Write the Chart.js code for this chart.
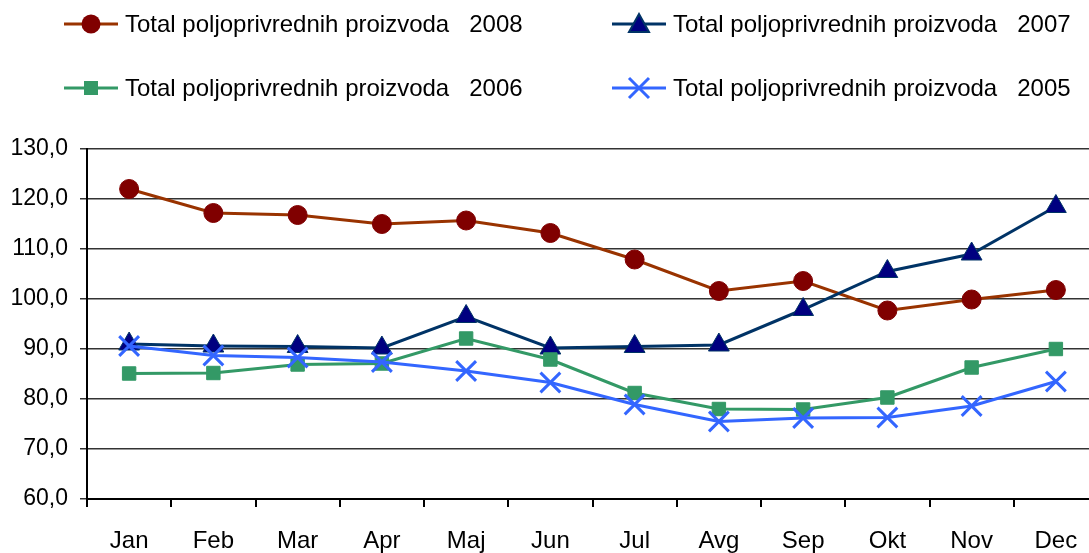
<!DOCTYPE html>
<html>
<head>
<meta charset="utf-8">
<script src="https://cdn.jsdelivr.net/npm/chart.js@4/dist/chart.umd.min.js"></script>
<style>
    html, body { margin: 0; padding: 0; background: #fff; }
    body { width: 1089px; height: 553px; position: relative; overflow: hidden; font-family: 'Liberation Sans', Arial, sans-serif; }
    /* plot runs a little past the right edge of the picture, as in the original */
    #chart-wrap { position: absolute; left: 0; top: 0; width: 1115px; height: 553px; }
    .legend-item { position: absolute; display: flex; align-items: center; font-size: 24px; color: #000; white-space: pre; }
    .legend-item svg { margin-right: 7px; }
</style>
</head>
<body>
<div id="chart-wrap"><canvas id="indexChart"></canvas></div>
<div id="legend"></div>
<script>
// Data
const months = ['Jan', 'Feb', 'Mar', 'Apr', 'Maj', 'Jun', 'Jul', 'Avg', 'Sep', 'Okt', 'Nov', 'Dec'];
const values2008 = [122.0, 117.2, 116.8, 115.0, 115.7, 113.2, 107.9, 101.6, 103.6, 97.7, 99.9, 101.8];
const values2007 = [91.0, 90.6, 90.5, 90.2, 96.5, 90.2, 90.5, 90.8, 97.9, 105.5, 109.0, 118.5];
const values2006 = [85.1, 85.2, 86.9, 87.1, 92.1, 87.9, 81.2, 78.0, 77.9, 80.3, 86.3, 90.0];
const values2005 = [90.6, 88.7, 88.3, 87.4, 85.6, 83.3, 78.9, 75.5, 76.2, 76.3, 78.6, 83.5];
const yTicks = [60, 70, 80, 90, 100, 110, 120, 130];

const seriesLabel = 'Total poljoprivrednih proizvoda   ';

const series = [
    { year: '2008', data: values2008, line: '#993300', fill: '#800000', border: '#800000', style: 'circle', radius: 9.5 },
    { year: '2007', data: values2007, line: '#003366', fill: '#000080', border: '#003366', style: 'triangle', radius: 12 },
    { year: '2006', data: values2006, line: '#339966', fill: '#339966', border: '#339966', style: 'rect', radius: 9.5 },
    { year: '2005', data: values2005, line: '#3366FF', fill: '#3366FF', border: '#3366FF', style: 'crossRot', radius: 14 }
];

document.addEventListener('DOMContentLoaded', function () {
    renderLegend();
    renderChart();
});

function markerSvg(s) {
    let mark = '';
    if (s.style === 'circle') mark = `<circle cx="27" cy="12" r="9.5" fill="${s.fill}"/>`;
    else if (s.style === 'triangle') mark = `<polygon points="27,2 37,20 17,20" fill="${s.fill}" stroke="${s.border}" stroke-width="2"/>`;
    else if (s.style === 'rect') mark = `<rect x="20" y="5" width="14" height="14" fill="${s.fill}"/>`;
    else mark = `<path d="M17 2 L37 22 M37 2 L17 22" stroke="${s.fill}" stroke-width="3"/>`;
    return `<svg width="54" height="24"><line x1="0" y1="12" x2="54" y2="12" stroke="${s.line}" stroke-width="3"/>${mark}</svg>`;
}

function renderLegend() {
    const legend = document.getElementById('legend');
    // two columns, two rows: 2008 | 2007 / 2006 | 2005
    const spots = [[64, 10], [612, 10], [64, 74], [612, 74]];
    legend.innerHTML = series.map((s, i) => `
        <div class="legend-item" style="left:${spots[i][0]}px; top:${spots[i][1]}px;">
            ${markerSvg(s)}<span>${seriesLabel}${s.year}</span>
        </div>`).join('');
}

function renderChart() {
    const ctx = document.getElementById('indexChart');

    new Chart(ctx, {
        type: 'line',
        data: {
            labels: months,
            datasets: series.map(s => ({
                label: seriesLabel + s.year,
                data: s.data,
                borderColor: s.line,
                borderWidth: 3,
                backgroundColor: s.fill,
                pointBackgroundColor: s.fill,
                pointBorderColor: s.border,
                pointBorderWidth: s.style === 'crossRot' ? 3 : 1,
                pointStyle: s.style,
                pointRadius: s.radius,
                pointHoverRadius: s.radius,
                tension: 0
            })).reverse()
        },
        options: {
            responsive: true,
            maintainAspectRatio: false,
            animation: false,
            layout: { padding: { top: 149, right: 0, left: 0, bottom: 0 } },
            plugins: {
                legend: { display: false },
                tooltip: { enabled: false }
            },
            scales: {
                x: {
                    type: 'category',
                    offset: true,
                    afterFit: axis => { axis.height = 54; },
                    grid: {
                        offset: true,
                        drawOnChartArea: false,
                        drawTicks: true,
                        tickLength: 8,
                        color: '#000',
                        lineWidth: 2
                    },
                    border: { color: '#000', width: 2 },
                    ticks: {
                        color: '#000',
                        padding: 20,
                        font: { family: 'Liberation Sans', size: 24 }
                    }
                },
                y: {
                    min: 60,
                    max: 130,
                    afterBuildTicks: axis => { axis.ticks = yTicks.map(v => ({ value: v })); },
                    afterFit: axis => { axis.width = 87; },
                    grid: {
                        color: '#333',
                        lineWidth: 1.5,
                        tickLength: 7
                    },
                    border: { color: '#000', width: 2 },
                    ticks: {
                        color: '#000',
                        padding: 12,
                        font: { family: 'Liberation Sans', size: 23 },
                        callback: v => v.toFixed(1).replace('.', ',')
                    }
                }
            }
        }
    });
}
</script>
</body>
</html>
